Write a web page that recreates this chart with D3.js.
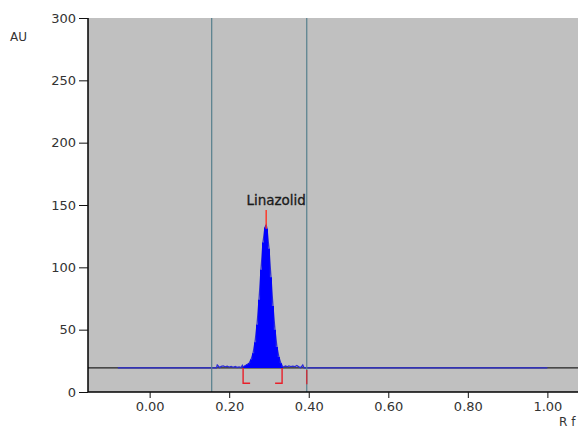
<!DOCTYPE html>
<html>
<head>
<meta charset="utf-8">
<script src="https://cdn.jsdelivr.net/npm/d3@7"></script>
<style>
  body { margin: 0; background: #fff; }
  text { font-family: "DejaVu Sans", sans-serif; fill: #333; }
</style>
</head>
<body>
<div id="chart"></div>
<script>
const width = 584;
const height = 428;
const margin = { top: 18, right: 6, bottom: 36, left: 88 };

// densitogram values (Rf, AU)
const xTicks = [0.0, 0.2, 0.4, 0.6, 0.8, 1.0];
const yTicks = [0, 50, 100, 150, 200, 250, 300];
const baselineAU = 19.3;
const traceStart = -0.08, traceEnd = 1.0;
const trackLines = [0.156, 0.395];   // vertical track markers
const noiseLeft = [[0.168, 19.3], [0.170, 21.6], [0.173, 20.6], [0.176, 19.6], [0.180, 20.5], [0.185, 20.9],
  [0.190, 20.2], [0.195, 20.7], [0.200, 20.0], [0.205, 20.5], [0.210, 19.8], [0.215, 20.4], [0.220, 19.7],
  [0.225, 20.2], [0.230, 19.6], [0.233, 21.3]];
const peakRf = [0.235, 0.240, 0.245, 0.250, 0.255, 0.260, 0.265, 0.270, 0.275, 0.280, 0.285, 0.290, 0.293,
  0.295, 0.300, 0.305, 0.310, 0.315, 0.320, 0.325, 0.330, 0.335];
const peakAU = [20, 21, 22, 23, 26, 31, 40, 54, 74, 98, 120, 132, 134,
  131, 115, 92, 69, 50, 36, 28, 23, 20];
const noiseRight = [[0.338, 20.3], [0.342, 20.8], [0.346, 20.2], [0.350, 20.9], [0.355, 20.4], [0.360, 20.8],
  [0.365, 20.3], [0.370, 21.3], [0.375, 20.2], [0.380, 19.5], [0.385, 21.7], [0.388, 19.4]];
const peakName = "Linazolid";
const peakTop = 0.293;
const peakStart = 0.235, peakEnd = 0.333, endMark = 0.395;

const svg = d3.select("#chart")
  .append("svg")
  .attr("width", width)
  .attr("height", height);

const x = d3.scaleLinear().domain([-0.155, 1.077]).range([margin.left, width - margin.right]);
const y = d3.scaleLinear().domain([0, 300]).range([height - margin.bottom, margin.top]);

// plot background
svg.append("rect")
  .attr("x", margin.left)
  .attr("y", margin.top)
  .attr("width", width - margin.left - margin.right)
  .attr("height", height - margin.top - margin.bottom)
  .attr("fill", "#c0c0c0");

// black baseline across whole plot
svg.append("line")
  .attr("x1", margin.left).attr("x2", width - margin.right)
  .attr("y1", y(baselineAU)).attr("y2", y(baselineAU))
  .attr("stroke", "#222").attr("stroke-width", 1.2);

// full trace
const peak = peakRf.map((r, i) => [r, peakAU[i]]);
const trace = [[traceStart, baselineAU]].concat(noiseLeft, peak, noiseRight, [[traceEnd, baselineAU]]);

const line = d3.line().x(d => x(d[0])).y(d => y(d[1]));
svg.append("path")
  .attr("d", line(trace))
  .attr("fill", "none")
  .attr("stroke", "#2b2bd8")
  .attr("stroke-width", 1.3);

// filled peak
const area = d3.area()
  .x(d => x(d[0]))
  .y0(y(baselineAU))
  .y1(d => y(d[1]))
  .curve(d3.curveStep);
svg.append("path")
  .attr("d", area(peak))
  .attr("fill", "#0000ff");

// track lines
svg.selectAll(".track")
  .data(trackLines)
  .enter().append("line")
  .attr("x1", d => x(d)).attr("x2", d => x(d))
  .attr("y1", margin.top).attr("y2", height - margin.bottom)
  .attr("stroke", "#557f8c").attr("stroke-width", 1.2);

// peak markers
const foot = 7;
const low = 7;
svg.append("path")
  .attr("d", `M${x(peakStart)},${y(baselineAU)}V${y(low)}h${foot}`)
  .attr("fill", "none").attr("stroke", "#e8202a").attr("stroke-width", 1.4);
svg.append("path")
  .attr("d", `M${x(peakEnd)},${y(baselineAU)}V${y(low)}h${-foot}`)
  .attr("fill", "none").attr("stroke", "#e8202a").attr("stroke-width", 1.4);
svg.append("line")
  .attr("x1", x(endMark)).attr("x2", x(endMark))
  .attr("y1", y(baselineAU) + 2).attr("y2", y(low) + 1)
  .attr("stroke", "#c8303a").attr("stroke-width", 1.4);
svg.append("line")
  .attr("x1", x(peakTop)).attr("x2", x(peakTop))
  .attr("y1", y(146)).attr("y2", y(131))
  .attr("stroke", "#ff3020").attr("stroke-width", 1.4);

svg.append("text")
  .attr("x", x(peakTop) + 10)
  .attr("y", y(150))
  .attr("text-anchor", "middle")
  .style("font-size", "13.5px")
  .style("fill", "#1a1a1a")
  .style("stroke", "#1a1a1a")
  .style("stroke-width", 0.3)
  .text(peakName);

// axes
const xAxis = d3.axisBottom(x).tickValues(xTicks).tickFormat(d3.format(".2f")).tickSize(6).tickPadding(4);
const yAxis = d3.axisLeft(y).tickValues(yTicks).tickSize(9).tickPadding(3);

const gx = svg.append("g")
  .attr("transform", `translate(0,${height - margin.bottom})`)
  .call(xAxis);
gx.select(".domain").attr("d", `M${margin.left},0H${width - margin.right}`).attr("stroke-width", 1.5);

const gy = svg.append("g")
  .attr("transform", `translate(${margin.left},0)`)
  .call(yAxis);
gy.select(".domain").attr("d", `M0,${margin.top}V${height - margin.bottom}`).attr("stroke-width", 1.5);

svg.selectAll(".tick text").style("font-size", "13px").style("fill", "#333").attr("font-family", null);
svg.selectAll(".tick line").attr("stroke", "#111");

svg.append("text").attr("x", 10).attr("y", 41).style("font-size", "12px").text("AU");
svg.append("text").attr("x", 559).attr("y", 426).style("font-size", "12px").text("R f");
</script>
</body>
</html>
